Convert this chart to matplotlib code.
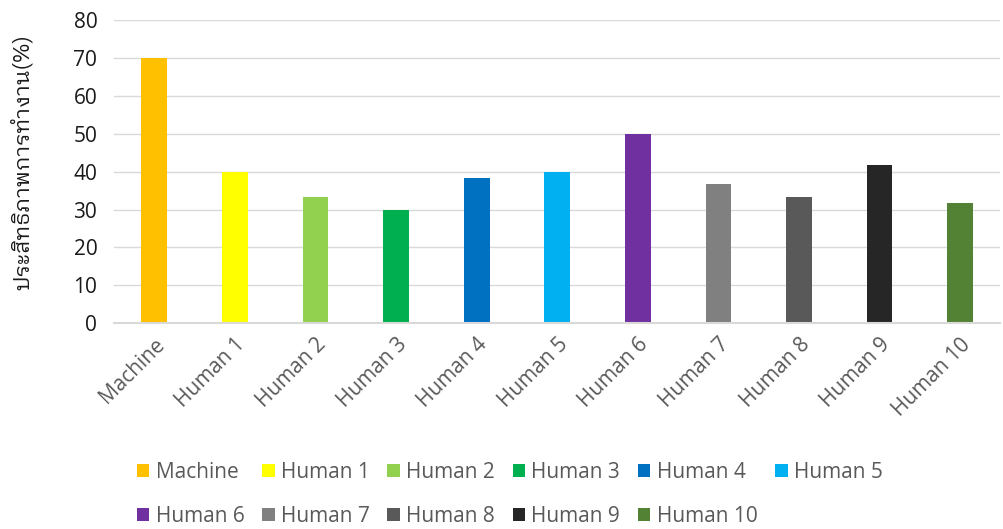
import matplotlib
matplotlib.use('Agg')
import matplotlib.pyplot as plt
from matplotlib import font_manager
from matplotlib.patches import Patch

# Data
categories = ['Machine', 'Human 1', 'Human 2', 'Human 3', 'Human 4', 'Human 5',
              'Human 6', 'Human 7', 'Human 8', 'Human 9', 'Human 10']
values = [70, 40, 33.3, 30, 38.3, 40, 50, 36.7, 33.3, 41.7, 31.7]
colors = ['#FFC000', '#FFFF00', '#92D050', '#00B050', '#0070C0', '#00B0F0',
          '#7030A0', '#808080', '#595959', '#262626', '#548235']
ylabel = 'ประสิทธิภาพการทำงาน(%)'

# pick a font family list that can show Thai, looped style first
names = {f.name for f in font_manager.fontManager.ttflist}
thai_fams = [n for n in names if 'Thai' in n or n in ('Loma', 'Garuda', 'Norasi', 'Kinnari', 'Sawasdee', 'Waree', 'Umpush', 'Tlwg Typo', 'Purisa', 'Tahoma')]
thai_fams.sort(key=lambda n: (0 if ('Looped' in n or n in ('Tahoma', 'Loma', 'Garuda')) else 1, 'UI' in n, n))
base = 'Open Sans'
plt.rcParams['font.family'] = [base] + thai_fams + ['DejaVu Sans']

text_col = '#595959'
grid_col = '#D9D9D9'

fig = plt.figure(figsize=(10.04, 5.29), dpi=100)
ax = fig.add_axes([0.1135, 0.389, 0.883, 0.573])

x = list(range(len(categories)))
ax.bar(x, values, width=0.32, color=colors, zorder=3)

ax.set_xlim(-0.5, len(categories) - 0.5)
ax.set_ylim(0, 80)
ax.set_yticks(range(0, 81, 10))
ax.set_xticks(x)
ax.set_xticklabels(categories, rotation=45, ha='right', rotation_mode='anchor',
                   fontsize=15, color=text_col)
ax.tick_params(axis='y', labelsize=15, labelcolor='#1a1a1a', length=0, pad=12)
ax.tick_params(axis='x', length=0, pad=8)
ax.grid(axis='y', color=grid_col, linewidth=1, zorder=0)
for s in ['top', 'right', 'left']:
    ax.spines[s].set_visible(False)
ax.spines['bottom'].set_color(grid_col)
ax.spines['bottom'].set_linewidth(1.5)
ax.spines['bottom'].set_zorder(4)

ax.set_ylabel(ylabel, fontsize=15.5, color='#1a1a1a',
              family=thai_fams + ['DejaVu Sans'])
ax.yaxis.set_label_coords(-0.09, 0.53)

# legend filled column by column, so reorder to read row by row
order = [0, 6, 1, 7, 2, 8, 3, 9, 4, 10, 5]
handles = [Patch(facecolor=colors[i], edgecolor='none') for i in order]
labels = [categories[i] for i in order]
fig.legend(handles, labels, loc='upper left', bbox_to_anchor=(0.128, 0.142),
           ncol=6, frameon=False, fontsize=15, labelcolor=text_col,
           handlelength=0.6, handleheight=0.6, handletextpad=0.3,
           columnspacing=0.85, labelspacing=1.1, borderaxespad=0)

fig.savefig('out.png', dpi=100)
